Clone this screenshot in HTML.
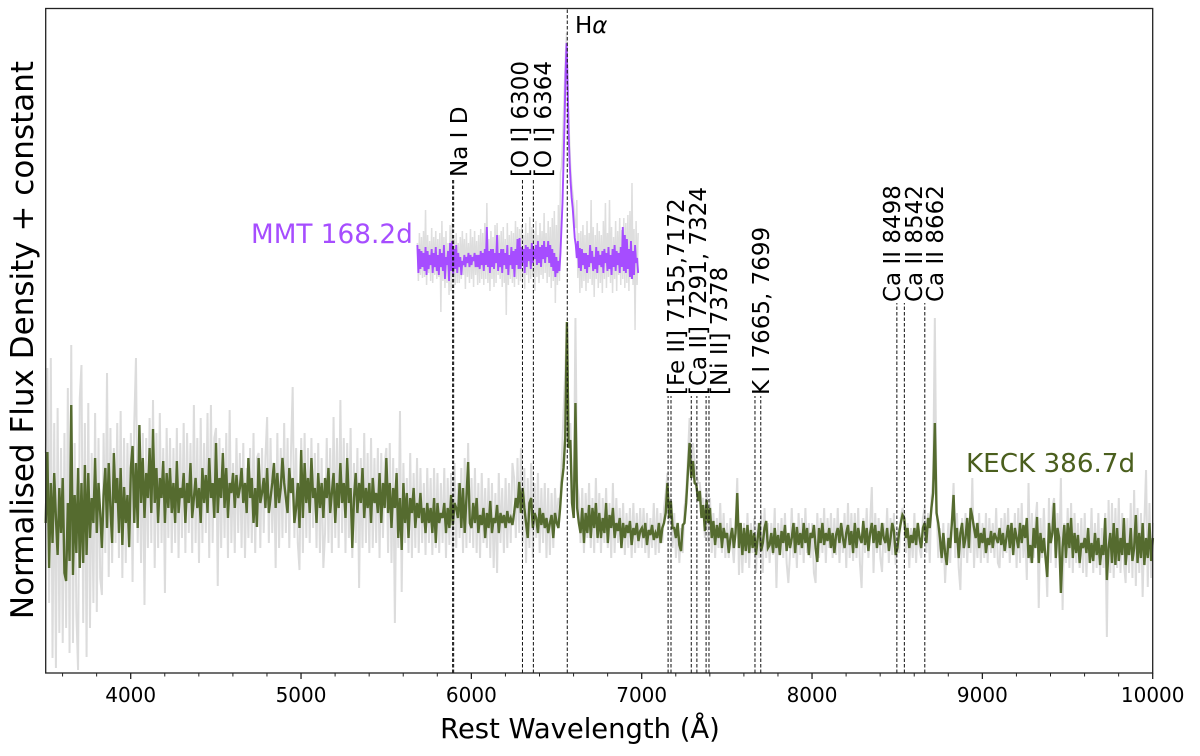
<!DOCTYPE html>
<html lang="en">
<head>
<meta charset="utf-8">
<title>Normalised spectra</title>
<style>
html,body{margin:0;padding:0;background:#fff;}
svg{display:block;}
text{font-family:"DejaVu Sans","Liberation Sans",sans-serif;fill:#000;}
</style>
</head>
<body>
<svg id="chart" width="1200" height="756" viewBox="0 0 1200 756" xmlns="http://www.w3.org/2000/svg">
<g id="series"></g>
<g id="lines"></g>
<rect x="45.7" y="8.5" width="1107" height="664.5" fill="none" stroke="#222" stroke-width="1.3"/>
<g id="ticks"></g>
<text x="580" y="738" font-size="27.4" text-anchor="middle">Rest Wavelength (Å)</text>
<text transform="translate(33,340) rotate(-90)" font-size="31" text-anchor="middle">Normalised Flux Density + constant</text>
<text x="251" y="243" font-size="26.3" style="fill:#a64dff">MMT 168.2d</text>
<text x="966" y="472" font-size="26.2" style="fill:#4b5f1e">KECK 386.7d</text>
<text x="575" y="33" font-size="23">H<tspan font-style="italic">α</tspan></text>
<text transform="translate(467,177) rotate(-90)" font-size="23">Na I D</text>
<text transform="translate(528,177) rotate(-90)" font-size="23">[O I] 6300</text>
<text transform="translate(551,177) rotate(-90)" font-size="23">[O I] 6364</text>
<text transform="translate(684,395) rotate(-90)" font-size="23">[Fe II] 7155,7172</text>
<text transform="translate(706,395) rotate(-90)" font-size="23">[Ca II] 7291, 7324</text>
<text transform="translate(727,395) rotate(-90)" font-size="23">[Ni II] 7378</text>
<text transform="translate(769,395) rotate(-90)" font-size="23">K I 7665, 7699</text>
<text transform="translate(900,302) rotate(-90)" font-size="23">Ca II 8498</text>
<text transform="translate(922,302) rotate(-90)" font-size="23">Ca II 8542</text>
<text transform="translate(943,302) rotate(-90)" font-size="23">Ca II 8662</text>
</svg>
<script>
// Axis domains
const xDomain = [3501, 10000];
const yDomain = [0, 664];
const majorTicks = [4000, 5000, 6000, 7000, 8000, 9000, 10000];
const minorTicks = [3600,3800,4200,4400,4600,4800,5200,5400,5600,5800,6200,6400,6600,6800,7200,7400,7600,7800,8200,8400,8600,8800,9200,9400,9600,9800];

// Line identifications: rest wavelength and the flux level where each marker stops
const lineWavelengths = [5890,5896,6300,6364,6563,7155,7172,7291,7324,7378,7395,7665,7699,8498,8542,8662];
const lineTops = [495,495,495,495,664,277,277,277,277,277,277,277,277,370,370,370];

// KECK spectrum sampling (Angstrom)
const keckStart = 3501;
const keckStep = 10;
const keckRaw = [
220,305,70,315,15,250,5,265,40,225,30,240,45,285,20,328,30,230,60,3,275,308,50,250,16,
270,45,220,70,260,61,235,95,78,240,120,300,96,245,110,225,130,250,115,262,95,235,110,230,125,
240,91,250,315,130,225,110,240,68,235,125,255,130,273,105,240,125,260,130,225,80,245,135,235,120,
225,130,245,115,230,135,250,120,240,140,230,120,268,130,235,110,255,130,230,140,260,115,268,130,235,
245,87,235,125,225,135,240,115,263,130,210,120,235,140,220,125,230,115,205,135,225,130,240,120,215,
220,125,225,140,215,256,130,235,140,210,105,240,125,225,135,250,140,235,125,220,286,135,225,130,103,
235,120,240,135,225,130,235,145,220,125,230,120,215,105,140,235,130,225,120,256,135,235,125,273,140,
235,120,230,135,245,115,210,130,225,85,215,125,240,130,220,120,235,125,215,130,225,115,220,135,210,
225,120,230,110,215,50,205,125,262,81,210,130,195,120,220,115,200,125,215,120,205,130,190,118,205,
130,195,118,205,125,200,120,190,130,205,115,195,128,200,120,210,125,190,135,205,120,215,125,230,130,
195,125,205,120,190,115,200,130,185,125,195,115,190,105,180,100,200,130,185,120,195,125,190,130,210,
195,135,215,140,225,130,205,110,195,125,210,115,190,135,200,120,185,130,190,115,185,118,180,125,185,
150,175,170,215,260,300,350,240,250,190,165,355,190,175,130,185,120,180,135,190,125,175,120,195,130,
180,120,175,130,185,125,170,115,190,120,175,130,165,125,170,118,160,125,165,115,170,120,160,125,165,
125,165,120,160,115,155,125,170,118,165,120,160,130,165,180,200,150,175,125,160,115,150,110,145,120,
165,180,215,255,205,230,210,200,190,190,170,175,135,185,130,175,120,160,115,155,125,170,120,160,115,
150,115,155,130,110,150,195,98,150,100,150,110,160,105,150,120,155,100,150,115,160,100,165,115,150,
110,150,118,165,85,150,120,155,115,160,110,90,120,165,115,150,105,160,118,155,110,165,120,150,115,
150,100,90,160,115,155,120,165,110,155,125,160,115,155,118,165,110,150,120,160,105,170,115,160,112,
160,115,165,110,85,155,120,165,115,150,186,100,160,120,155,115,101,150,120,165,110,155,118,160,108,
145,120,155,165,160,120,150,105,145,115,160,110,150,125,115,155,165,120,160,110,175,195,355,170,115,
145,110,150,90,125,150,110,155,190,115,160,105,83,155,115,160,110,150,120,195,105,150,115,160,110,
150,115,160,110,155,120,150,115,165,110,105,155,115,160,120,165,110,150,118,160,105,165,110,170,115,
145,93,190,110,160,115,150,171,65,155,115,165,120,76,175,110,165,175,105,160,115,195,63,150,110,
165,105,170,100,160,110,150,105,155,100,160,96,145,110,165,100,150,105,160,98,145,105,160,36,173,
100,170,95,165,105,175,100,160,110,90,155,100,170,95,183,87,165,100,160,76,150,203,86,170,95,150
];
const keckSmooth = [
150,221,105,190,130,200,155,118,185,140,195,100,92,170,112,268,98,178,120,205,105,190,110,208,118,
200,135,175,150,215,140,190,160,125,178,205,145,210,165,130,220,170,195,140,205,128,186,150,178,126,
205,227,150,210,145,248,170,215,155,200,175,225,160,244,170,205,150,195,175,212,150,200,165,205,160,
190,150,212,160,185,175,200,150,190,170,210,155,175,195,165,185,150,205,170,198,160,215,175,190,155,
230,160,195,175,220,165,205,155,190,180,200,165,198,175,185,205,170,190,160,215,175,195,150,185,146,
215,170,180,195,165,205,160,175,190,210,165,200,170,185,215,190,175,160,205,180,195,150,165,190,145,
223,155,210,170,195,160,215,175,185,150,200,165,190,155,195,175,205,160,180,200,150,190,165,210,170,
190,155,215,170,185,125,175,200,160,190,170,205,155,185,165,190,150,195,170,180,160,200,150,190,165,
215,160,190,145,185,165,200,135,175,123,190,150,180,135,175,160,185,145,170,155,180,150,165,140,170,
150,165,140,175,130,170,150,160,155,170,140,165,145,178,148,170,165,155,190,145,185,140,175,211,150,
145,170,150,175,140,158,148,165,135,160,145,172,140,155,150,168,140,160,150,158,145,162,150,155,148,
160,175,165,191,160,185,165,150,135,170,175,145,160,155,140,165,148,160,145,155,140,150,158,135,160,
150,145,165,190,205,235,351,225,233,170,155,270,165,150,140,165,130,160,140,168,135,165,145,170,135,
160,135,155,140,170,130,158,145,165,135,150,142,155,125,150,135,148,140,152,128,145,138,150,132,142,
145,135,150,128,143,138,148,133,140,135,150,130,145,150,160,190,155,172,145,145,135,150,128,122,148,
150,170,200,230,195,212,190,188,172,182,155,168,142,173,150,165,135,152,128,148,135,150,125,145,135,
140,120,135,145,125,140,180,125,150,118,145,122,148,120,143,125,140,118,135,150,122,130,145,152,125,
128,140,120,145,125,138,118,142,130,148,122,140,125,135,150,120,146,128,140,125,150,130,145,118,140,
135,148,125,111,145,130,150,128,140,132,145,125,140,120,138,145,130,150,135,125,140,148,128,142,120,
150,125,145,135,130,152,128,145,122,140,150,130,148,125,142,128,150,135,130,145,122,135,150,142,118,
125,140,150,158,155,135,145,125,138,130,145,128,150,135,125,145,150,130,155,145,165,180,250,160,150,
135,115,140,120,108,135,125,150,178,130,145,115,140,150,125,135,155,125,165,156,145,135,150,125,140,
130,145,120,135,128,142,125,140,135,130,145,128,140,122,135,148,125,150,118,145,135,125,150,130,148,
135,155,115,128,110,145,125,156,110,140,120,135,115,96,150,130,140,170,115,145,135,80,125,148,115,
150,125,155,115,140,120,138,110,130,125,135,120,145,110,130,112,140,118,135,108,128,118,155,93,125,
140,110,150,108,145,112,135,118,155,108,130,118,145,112,125,158,110,140,115,150,108,135,115,150,112,135
];

// MMT spectrum sampling (Angstrom)
const mmtStart = 5683;
const mmtStep = 6;
const mmtRaw = [
430,392,440,398,436,395,442,396,463,388,438,400,432,392,445,390,436,398,442,394,
434,396,440,361,452,392,436,385,442,390,430,378,448,382,450,392,434,388,440,390,
430,390,436,394,442,398,434,384,440,396,430,390,444,394,436,386,442,398,432,388,
438,390,444,394,440,388,450,394,470,390,434,382,442,394,436,386,448,390,450,398,
438,394,442,386,446,390,434,358,450,388,438,394,442,390,440,386,452,394,446,388,
444,392,448,394,438,384,450,398,440,390,456,394,446,398,442,382,452,396,438,390,
450,398,442,394,460,400,440,390,452,396,446,385,455,392,462,370,448,388,468,392,
500,506,530,560,590,620,640,600,560,530,505,490,480,470,450,445,473,395,440,380,
442,385,448,392,438,382,452,390,440,394,473,388,446,376,438,394,450,385,442,390,
438,380,452,394,470,385,440,396,473,390,446,380,436,394,452,382,442,398,455,388,
443,394,455,385,450,390,458,382,462,394,490,388,444,343,452,388,440
];
const mmtSmooth = [
428,400,424,404,422,406,420,402,426,398,422,404,418,408,424,400,420,406,426,402,
418,398,424,406,420,402,428,394,416,408,422,392,430,402,432,398,424,404,428,400,
420,406,416,398,412,408,418,406,416,410,420,406,418,408,416,412,420,406,418,406,
418,404,422,408,420,402,424,408,446,406,422,400,424,406,424,404,420,410,438,402,
420,406,424,400,424,408,420,404,428,398,418,408,426,404,422,396,424,408,434,404,
435,404,426,410,424,400,428,406,426,412,424,404,430,410,424,414,428,408,432,410,
426,406,428,414,432,410,426,416,432,410,428,406,424,402,420,396,416,400,412,402,
420,445,470,510,550,600,630,590,540,510,490,475,465,450,435,428,415,432,405,425,
402,424,408,420,404,420,400,418,406,428,410,422,402,416,404,426,400,422,408,418,
406,422,400,424,410,420,402,426,404,418,398,424,406,428,402,422,408,420,400,426,
406,446,402,438,400,434,404,424,396,432,394,422,398,428,410,415,400
];

const NS = 'http://www.w3.org/2000/svg';
const plot = { left: 45.7, right: 1152.7, top: 9, bottom: 673 };
function xScale(w) {
  return plot.left + (w - xDomain[0]) / (xDomain[1] - xDomain[0]) * (plot.right - plot.left);
}
function yScale(f) {
  return plot.bottom - (f - yDomain[0]) / (yDomain[1] - yDomain[0]) * (plot.bottom - plot.top);
}
function pointsFrom(values, start, step) {
  return values.map(function (v, i) {
    return xScale(start + i * step).toFixed(2) + ',' + yScale(v).toFixed(2);
  }).join(' ');
}
const seriesGroup = document.getElementById('series');
function addSeries(name, values, start, step, color, width) {
  const el = document.createElementNS(NS, 'polyline');
  
  
  el.setAttribute('points', pointsFrom(values, start, step));
  el.setAttribute('fill', 'none');
  el.setAttribute('stroke', color);
  el.setAttribute('stroke-width', width);
  el.setAttribute('stroke-linejoin', 'miter');
  seriesGroup.appendChild(el);
}
addSeries('keck-raw-spectrum', keckRaw, keckStart, keckStep, '#dcdcdc', 2);
addSeries('mmt-raw-spectrum', mmtRaw, mmtStart, mmtStep, '#dedede', 1.5);
addSeries('keck-smoothed-spectrum', keckSmooth, keckStart, keckStep, '#556b2f', 2.4);
addSeries('mmt-smoothed-spectrum', mmtSmooth, mmtStart, mmtStep, '#a64dff', 1.9);

const linesGroup = document.getElementById('lines');
lineWavelengths.forEach(function (w, i) {
  const el = document.createElementNS(NS, 'line');
  
  
  el.setAttribute('x1', xScale(w));
  el.setAttribute('x2', xScale(w));
  el.setAttribute('y1', yScale(yDomain[0]));
  el.setAttribute('y2', yScale(lineTops[i]));
  el.setAttribute('stroke', '#111');
  el.setAttribute('stroke-width', '1');
  el.setAttribute('stroke-dasharray', '3.5 2');
  linesGroup.appendChild(el);
});

const tickGroup = document.getElementById('ticks');
majorTicks.forEach(function (t) {
  const tick = document.createElementNS(NS, 'line');
  
  
  tick.setAttribute('x1', xScale(t));
  tick.setAttribute('x2', xScale(t));
  tick.setAttribute('y1', plot.bottom);
  tick.setAttribute('y2', plot.bottom + 6);
  tick.setAttribute('stroke', '#222');
  tick.setAttribute('stroke-width', '1.3');
  tickGroup.appendChild(tick);
  const label = document.createElementNS(NS, 'text');
  
  
  label.setAttribute('x', xScale(t));
  label.setAttribute('y', plot.bottom + 29);
  label.setAttribute('font-size', '20');
  label.setAttribute('text-anchor', 'middle');
  label.textContent = String(t);
  tickGroup.appendChild(label);
});
minorTicks.forEach(function (t) {
  const tick = document.createElementNS(NS, 'line');
  
  
  tick.setAttribute('x1', xScale(t));
  tick.setAttribute('x2', xScale(t));
  tick.setAttribute('y1', plot.bottom);
  tick.setAttribute('y2', plot.bottom + 3.5);
  tick.setAttribute('stroke', '#222');
  tick.setAttribute('stroke-width', '1');
  tickGroup.appendChild(tick);
});
</script>
</body>
</html>
